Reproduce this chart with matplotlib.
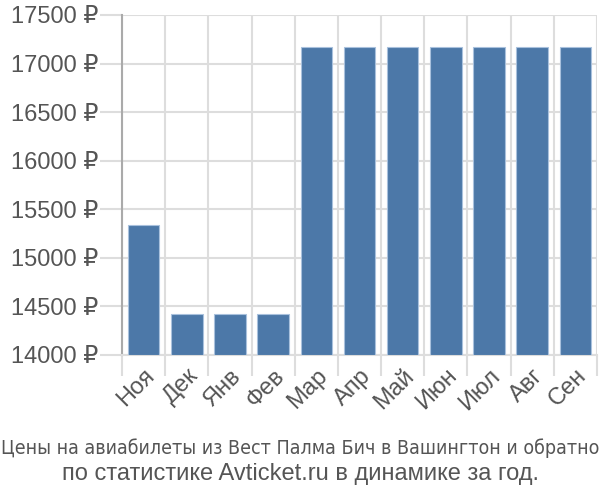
import matplotlib.pyplot as plt
import numpy as np

# Данные
mois = ['Ноя', 'Дек', 'Янв', 'Фев', 'Мар', 'Апр', 'Май', 'Июн', 'Июл', 'Авг', 'Сен']
prix = [15335, 14420, 14420, 14420, 17172, 17172, 17172, 17172, 17172, 17172, 17172]
yticks = [14000, 14500, 15000, 15500, 16000, 16500, 17000, 17500]

plt.rcParams['font.family'] = ['Liberation Sans', 'DejaVu Sans']
gris = '#555555'
grille = '#dddddd'

fig = plt.figure(figsize=(6, 5), dpi=100)
ax = fig.add_axes([122/600, 1-355/500, 475/600, 340/500])

x = np.arange(len(mois))
ax.bar(x, np.array(prix) - 14000, bottom=14000, width=0.73,
       color='#4c78a8', edgecolor='#a9c1dd', linewidth=0.8, zorder=3)

ax.set_xlim(-0.5, len(mois) - 0.5)
ax.set_ylim(14000, 17500)

# grille verticale aux limites des barres, prolongée vers le bas
ax.set_xticks(np.arange(len(mois) + 1) - 0.5, minor=True)
ax.set_xticks(x)
ax.set_xticklabels(mois, rotation=45, ha='right', rotation_mode='anchor',
                   fontsize=17, color=gris)
ax.tick_params(axis='x', which='major', length=0, pad=7)
ax.tick_params(axis='x', which='minor', length=15, width=1.5, color=grille)
ax.grid(True, axis='x', which='minor', color=grille, linewidth=1.5, zorder=0)

ax.set_yticks(yticks)
ax.set_yticklabels([f'{v} ₽' for v in yticks], fontsize=17, color=gris)
ax.tick_params(axis='y', length=16, width=1.5, color=grille, pad=1)
ax.grid(True, axis='y', color=grille, linewidth=1.5, zorder=0)

for s in ['top', 'right']:
    ax.spines[s].set_visible(False)
ax.spines['bottom'].set_color(grille)
ax.spines['bottom'].set_linewidth(1.5)
ax.spines['left'].set_color('#aaaaaa')
ax.spines['left'].set_linewidth(1.5)

fig.text(0.5, 1-448/500, 'Цены на авиабилеты из Вест Палма Бич в Вашингтон и обратно',
         ha='center', va='center', fontsize=14, color=gris,
         family='DejaVu Sans', fontstretch='condensed')
fig.text(0.5, 1-474/500, 'по статистике Avticket.ru в динамике за год.',
         ha='center', va='center', fontsize=17, color=gris)

fig.savefig('out.png', dpi=100)
